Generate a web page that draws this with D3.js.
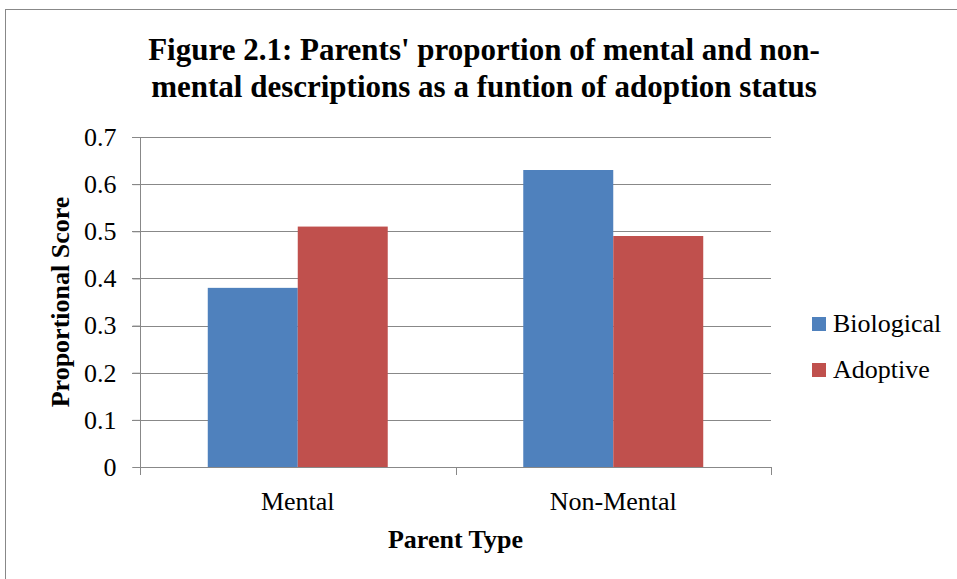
<!DOCTYPE html>
<html><head><meta charset="utf-8">
<script src="https://cdn.jsdelivr.net/npm/d3@7"></script>
<style>body{margin:0;background:#fff;}svg{display:block;}</style>
</head><body>
<script>
const categories = ["Mental", "Non-Mental"];
const seriesNames = ["Biological", "Adoptive"];
const biological = [0.38, 0.63];
const adoptive = [0.51, 0.49];
const yTicks = [0, 0.1, 0.2, 0.3, 0.4, 0.5, 0.6, 0.7];
const colors = ["#4F81BD", "#C0504D"];
const titleLines = ["Figure 2.1: Parents' proportion of mental and non-", "mental descriptions as a funtion of adoption status"];

(function () {
const W = 957, H = 579;
const svg = d3.select("body").append("svg").attr("width", W).attr("height", H);
const font = "'Liberation Serif','Times New Roman',serif";

svg.append("rect").attr("x", 5.5).attr("y", 9.5).attr("width", 960).attr("height", 580)
  .attr("fill", "#fff").attr("stroke", "#888").attr("stroke-width", 1);

const pL = 140, pR = 771, pT = 137, pB = 467;
const x = d3.scaleBand().domain(categories).range([pL, pR]).padding(0);
const xs = d3.scaleBand().domain(seriesNames).range([0, x.bandwidth()]).paddingInner(0).paddingOuter(0.753);
const y = d3.scaleLinear().domain([0, 0.7]).range([pB, pT]);

// gridlines
svg.append("g").selectAll("line").data(yTicks.filter(d => d > 0)).join("line")
  .attr("x1", pL - 8).attr("x2", pR).attr("y1", d => Math.round(y(d)) + 0.5).attr("y2", d => Math.round(y(d)) + 0.5)
  .attr("stroke", "#888").attr("stroke-width", 1);

// bars
const data = [biological, adoptive];
categories.forEach((c, i) => {
  seriesNames.forEach((s, j) => {
    svg.append("rect").attr("x", x(c) + xs(s)).attr("width", xs.bandwidth())
      .attr("y", y(data[j][i])).attr("height", pB - y(data[j][i])).attr("fill", colors[j]);
  });
});

// y axis
const yAxis = svg.append("g").attr("transform", `translate(${pL + 0.5},0)`)
  .call(d3.axisLeft(y).tickValues(yTicks).tickSize(8).tickPadding(16).tickFormat(d => d === 0 ? "0" : d3.format(".1f")(d)));
yAxis.select(".domain").attr("stroke", "#888").attr("d", `M-8,${Math.round(pT)+0.5}H0V${pB + 0.5}H-8`);
yAxis.selectAll(".tick line").attr("stroke", "#888");
yAxis.selectAll("text").attr("font-family", font).attr("font-size", 26).attr("fill", "#000");

// x axis
const xAxis = svg.append("g").attr("transform", `translate(0,${pB + 0.5})`)
  .call(d3.axisBottom(x).tickSize(0).tickPadding(24));
xAxis.select(".domain").remove();
xAxis.selectAll("text").attr("font-family", font).attr("font-size", 26).attr("fill", "#000");
svg.append("line").attr("x1", pL).attr("x2", pR + 0.5).attr("y1", pB + 0.5).attr("y2", pB + 0.5).attr("stroke", "#888");
const xt = [pL, pL + x.bandwidth(), pR];
svg.append("g").selectAll("line").data(xt).join("line")
  .attr("x1", d => Math.round(d) + 0.5).attr("x2", d => Math.round(d) + 0.5)
  .attr("y1", pB).attr("y2", pB + 8).attr("stroke", "#888");

// title
svg.append("text").attr("text-anchor", "middle").attr("font-family", font).attr("font-weight", "bold")
  .attr("font-size", 31).selectAll("tspan").data(titleLines).join("tspan")
  .attr("x", 484).attr("y", (d, i) => 60 + i * 37).text(d => d);

// axis titles
svg.append("text").attr("x", (pL + pR) / 2).attr("y", 548).attr("text-anchor", "middle")
  .attr("font-family", font).attr("font-weight", "bold").attr("font-size", 26).text("Parent Type");
svg.append("text").attr("transform", `translate(69,${(pT + pB) / 2}) rotate(-90)`).attr("text-anchor", "middle")
  .attr("font-family", font).attr("font-weight", "bold").attr("font-size", 26).text("Proportional Score");

// legend
const lg = svg.append("g").selectAll("g").data(seriesNames).join("g")
  .attr("transform", (d, i) => `translate(812,${317 + i * 46})`);
lg.append("rect").attr("width", 14).attr("height", 14).attr("fill", (d, i) => colors[i]);
lg.append("text").attr("x", 21).attr("y", 15).attr("font-family", font).attr("font-size", 26).text(d => d);
})();
</script>
</body></html>
